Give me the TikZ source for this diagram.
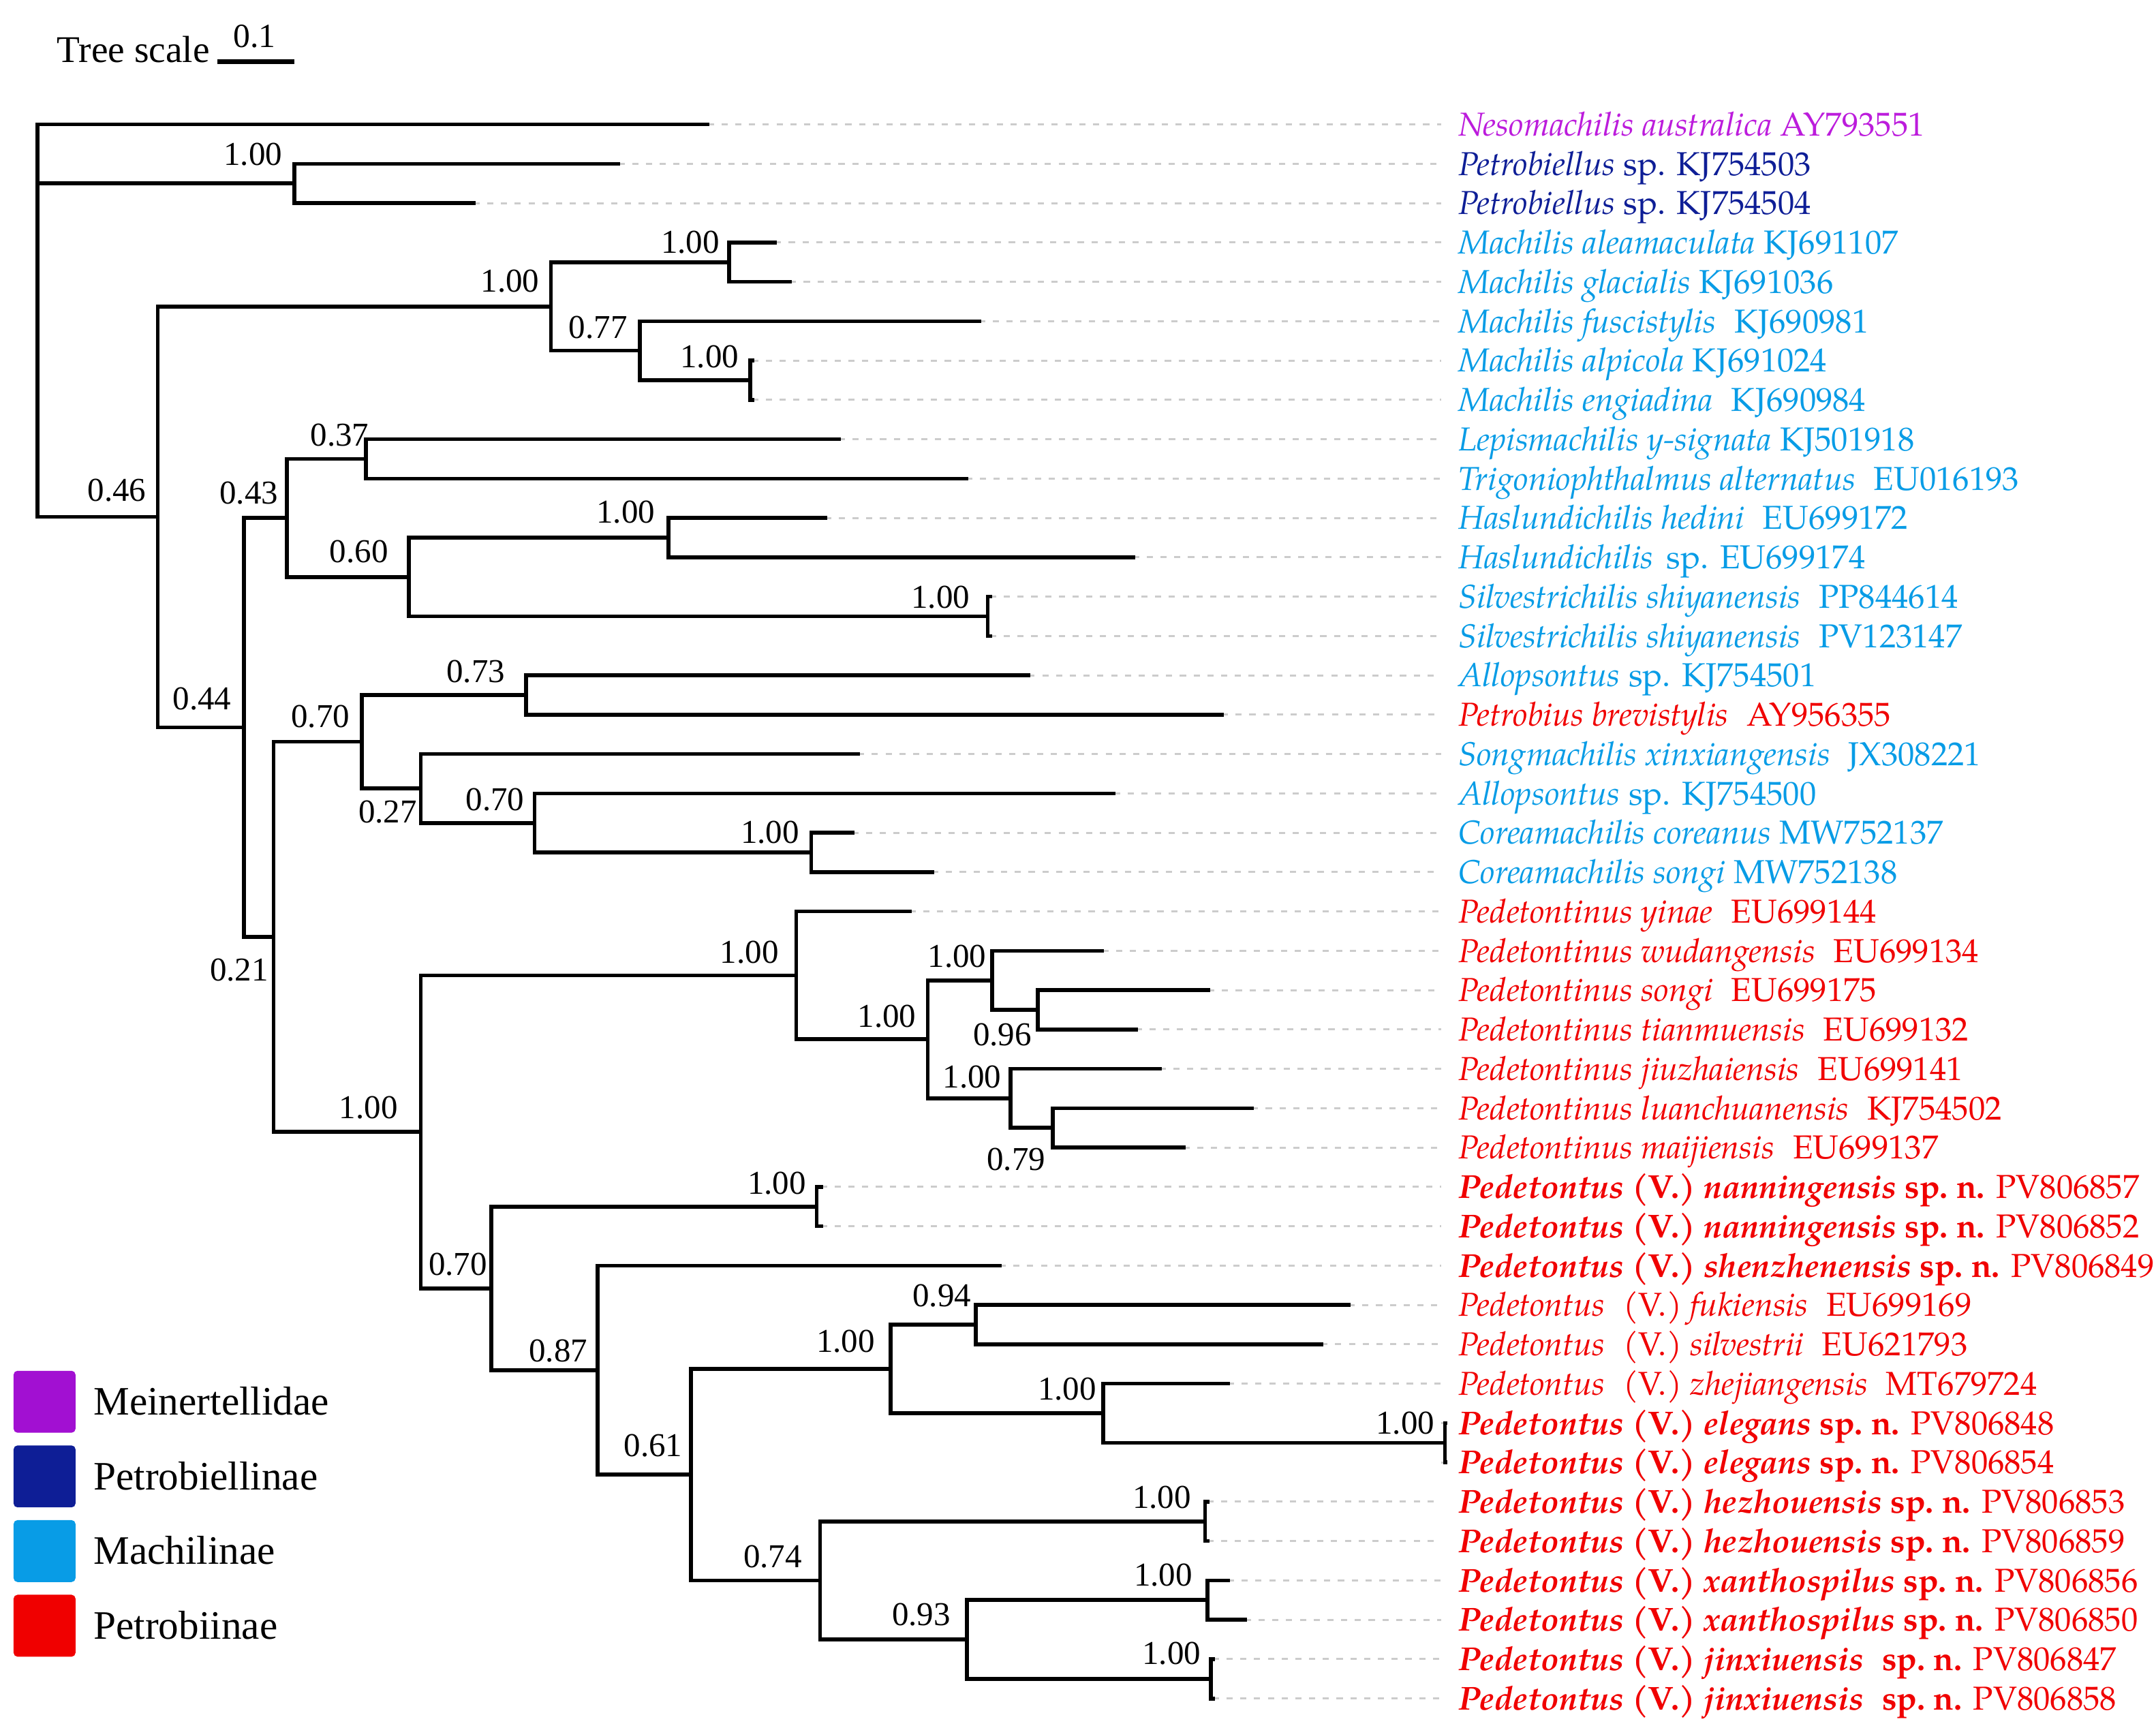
\documentclass[tikz,border=0pt]{standalone}
\usepackage{fontspec}
\setmainfont{Liberation Serif}
\newfontfamily\taxfont{TeX Gyre Pagella}
\usetikzlibrary{positioning}

\definecolor{meinert}{RGB}{162,16,210}
\definecolor{meinerttext}{RGB}{188,28,220}
\definecolor{petrobiel}{RGB}{14,30,150}
\definecolor{machil}{RGB}{8,156,230}
\definecolor{petrobii}{RGB}{240,0,0}

\newcommand{\gap}{\hspace{0.55em}}
\newcommand{\novum}[2]{\textbf{\textit{Pedetontus} (V.) \textit{#1} sp.~n.} #2}

\tikzset{
  branch/.style={line width=0.8pt, line cap=rect},
  guide/.style={gray!40, line width=0.4pt, dash pattern=on 0.45mm off 0.55mm},
  taxon/.style={anchor=west, inner xsep=3.4pt, inner ysep=0pt, text height=4.7pt, text depth=0pt,
    font=\taxfont\fontsize{6.85}{7.5}\selectfont},
  bs/.style={inner sep=0pt, text height=4.7pt, text depth=0pt, font=\fontsize{6.9}{8}\selectfont},
  legbox/.style={rounded corners=0.8pt, minimum size=0.45cm, inner sep=0pt},
  legtext/.style={inner sep=0pt, text height=5.5pt, text depth=0pt, font=\fontsize{8.35}{9}\selectfont},
}

\begin{document}
\begin{tikzpicture}[x=0.01cm, y=-0.01cm]
\useasboundingbox (0,0) rectangle (1568,1256.3);

% internal nodes of the tree
\coordinate (root) at (27.1,90.5);
\coordinate (P) at (214,133.4);
\coordinate (N46) at (114.8,375.95);
\coordinate (M0) at (400.7,222.9);
\coordinate (A) at (530.4,190.7);
\coordinate (B) at (465.3,255.05);
\coordinate (C) at (545.5,276.5);
\coordinate (N44) at (177.3,529);
\coordinate (N43) at (208.7,376.7);
\coordinate (N37) at (266,333.8);
\coordinate (N60) at (297.4,419.6);
\coordinate (Hasl) at (486,391);
\coordinate (Silv) at (718.4,448.25);
\coordinate (N21) at (199,681.35);
\coordinate (N70a) at (263,539.5);
\coordinate (N73) at (382.6,505.5);
\coordinate (N27) at (306,573.45);
\coordinate (N70b) at (388.8,598.5);
\coordinate (Cor) at (590,620);
\coordinate (N100a) at (306,823.2);
\coordinate (P1) at (579,709.4);
\coordinate (P2) at (674.7,755.9);
\coordinate (P3) at (721.6,713);
\coordinate (P4) at (754.7,734.45);
\coordinate (P5) at (735,798.85);
\coordinate (P6) at (765.8,820.3);
\coordinate (N70c) at (357.2,937);
\coordinate (Nan) at (594,877.55);
\coordinate (N87) at (434.7,996.5);
\coordinate (N61) at (502.6,1072.5);
\coordinate (F1) at (647.6,995.6);
\coordinate (F2) at (709.5,963.4);
\coordinate (F3) at (802.4,1027.8);
\coordinate (Ele) at (1050.8,1049.3);
\coordinate (N74) at (596.5,1149.45);
\coordinate (Hez) at (876.4,1106.5);
\coordinate (N93) at (703.3,1192.4);
\coordinate (Xan) at (878,1163.75);
\coordinate (Jin) at (880.6,1221);

% leaves, taxon names and guide lines
\foreach \i/\tx/\col/\txt in {
  0/514.7/meinerttext/{\textit{Nesomachilis australica} AY793551},
  1/449.7/petrobiel/{\textit{Petrobiellus} sp. KJ754503},
  2/344.3/petrobiel/{\textit{Petrobiellus} sp. KJ754504},
  3/563.6/machil/{\textit{Machilis aleamaculata} KJ691107},
  4/574.5/machil/{\textit{Machilis glacialis} KJ691036},
  5/712/machil/{\textit{Machilis fuscistylis}\gap KJ690981},
  6/547/machil/{\textit{Machilis alpicola} KJ691024},
  7/547/machil/{\textit{Machilis engiadina}\gap KJ690984},
  8/610/machil/{\textit{Lepismachilis y-signata} KJ501918},
  9/702.6/machil/{\textit{Trigoniophthalmus alternatus}\gap EU016193},
  10/600/machil/{\textit{Haslundichilis hedini}\gap EU699172},
  11/824/machil/{\textit{Haslundichilis}\hspace{0.4em}sp. EU699174},
  12/720/machil/{\textit{Silvestrichilis shiyanensis}\gap PP844614},
  13/720/machil/{\textit{Silvestrichilis shiyanensis}\gap PV123147},
  14/748/machil/{\textit{Allopsontus} sp. KJ754501},
  15/888.6/petrobii/{\textit{Petrobius brevistylis}\gap AY956355},
  16/624/machil/{\textit{Songmachilis xinxiangensis}\gap JX308221},
  17/810/machil/{\textit{Allopsontus} sp. KJ754500},
  18/619.8/machil/{\textit{Coreamachilis coreanus} MW752137},
  19/678/machil/{\textit{Coreamachilis songi} MW752138},
  20/661.6/petrobii/{\textit{Pedetontinus yinae}\gap EU699144},
  21/801.6/petrobii/{\textit{Pedetontinus wudangensis}\gap EU699134},
  22/878.7/petrobii/{\textit{Pedetontinus songi}\gap EU699175},
  23/826/petrobii/{\textit{Pedetontinus tianmuensis}\gap EU699132},
  24/843.4/petrobii/{\textit{Pedetontinus jiuzhaiensis}\gap EU699141},
  25/910.5/petrobii/{\textit{Pedetontinus luanchuanensis}\gap KJ754502},
  26/860.7/petrobii/{\textit{Pedetontinus maijiensis}\gap EU699137},
  27/597/petrobii/{\novum{nanningensis}{PV806857}},
  28/597/petrobii/{\novum{nanningensis}{PV806852}},
  29/727/petrobii/{\novum{shenzhenensis}{PV806849}},
  30/980.8/petrobii/{\textit{Pedetontus}\gap(V.) \textit{fukiensis}\gap EU699169},
  31/961/petrobii/{\textit{Pedetontus}\gap(V.) \textit{silvestrii}\gap EU621793},
  32/893/petrobii/{\textit{Pedetontus}\gap(V.) \textit{zhejiangensis}\gap MT679724},
  33/1051/petrobii/{\novum{elegans}{PV806848}},
  34/1051/petrobii/{\novum{elegans}{PV806854}},
  35/878/petrobii/{\novum{hezhouensis}{PV806853}},
  36/878/petrobii/{\novum{hezhouensis}{PV806859}},
  37/893/petrobii/{\novum{xanthospilus}{PV806856}},
  38/905.3/petrobii/{\novum{xanthospilus}{PV806850}},
  39/882/petrobii/{\textbf{\textit{Pedetontus} (V.) \textit{jinxiuensis}\gap sp.~n.} PV806847},
  40/882/petrobii/{\textbf{\textit{Pedetontus} (V.) \textit{jinxiuensis}\gap sp.~n.} PV806858}} {
  \coordinate (l\i) at (\tx,{90.5+28.62*\i});
  \node[taxon, text=\col] (t\i) at (1048,{90.5+28.62*\i}) {\txt};
  \draw[guide] (l\i) -- (t\i.west);
}

% branches
\foreach \p/\c in {
  root/l0, root/P, root/N46, P/l1, P/l2, N46/M0, N46/N44,
  M0/A, M0/B, A/l3, A/l4, B/l5, B/C, C/l6, C/l7,
  N44/N43, N44/N21, N43/N37, N43/N60, N37/l8, N37/l9,
  N60/Hasl, N60/Silv, Hasl/l10, Hasl/l11, Silv/l12, Silv/l13,
  N21/N70a, N21/N100a, N70a/N73, N70a/N27, N73/l14, N73/l15,
  N27/l16, N27/N70b, N70b/l17, N70b/Cor, Cor/l18, Cor/l19,
  N100a/P1, N100a/N70c, P1/l20, P1/P2, P2/P3, P2/P5, P3/l21, P3/P4,
  P4/l22, P4/l23, P5/l24, P5/P6, P6/l25, P6/l26,
  N70c/Nan, N70c/N87, Nan/l27, Nan/l28, N87/l29, N87/N61,
  N61/F1, N61/N74, F1/F2, F1/F3, F2/l30, F2/l31, F3/l32, F3/Ele,
  Ele/l33, Ele/l34, N74/Hez, N74/N93, Hez/l35, Hez/l36,
  N93/Xan, N93/Jin, Xan/l37, Xan/l38, Jin/l39, Jin/l40}
  \draw[branch] (\p) |- (\c);

% support values
\foreach \n/\v/\x/\y in {
  P/1.00/184/112, M0/1.00/371/204, A/1.00/502/176, B/0.77/435/238,
  C/1.00/516/259, N46/0.46/85/356, N44/0.44/147/508, N43/0.43/181/358,
  N37/0.37/247/316, Hasl/1.00/455/372, N60/0.60/261/401, Silv/1.00/684/434,
  N21/0.21/174/705, N70a/0.70/233/521, N73/0.73/346/488, N27/0.27/282/590,
  N70b/0.70/360/581, Cor/1.00/560/605, N100a/1.00/268/805, P1/1.00/545/692,
  P2/1.00/645/739, P3/1.00/696/695, P4/0.96/729/752, P5/1.00/707/783,
  P6/0.79/739/843, Nan/1.00/565/860, N70c/0.70/333/919, N87/0.87/406/982,
  N61/0.61/475/1051, F1/1.00/615/975, F2/0.94/685/942, F3/1.00/776/1010,
  Ele/1.00/1022/1034.5, N74/0.74/562/1132, Hez/1.00/845/1088.6,
  N93/0.93/670/1174, Xan/1.00/846/1145, Jin/1.00/852/1202}
  \node[bs] (bs-\n) at (\x,\y) {\v};

% tree scale
\node[inner sep=0pt, font=\fontsize{7.8}{9}\selectfont] (treescale) at (97,36) {Tree scale};
\coordinate (sc0) at (158,45);
\coordinate (sc1) at (214,45);
\draw[line width=1pt] (sc0) -- (sc1);
\node[bs, font=\fontsize{7}{8}\selectfont] (scaleval) at (185,26) {0.1};

% legend
\foreach \k/\c/\t in {0/meinert/Meinertellidae, 1/petrobiel/Petrobiellinae,
                      2/machil/Machilinae, 3/petrobii/Petrobiinae} {
  \node[legbox, fill=\c] (box\k) at (32.4,{1019.5+54.3*\k}) {};
  \node[legtext, right=0.118cm of box\k] (leg\k) {\t};
}
\end{tikzpicture}
\end{document}
